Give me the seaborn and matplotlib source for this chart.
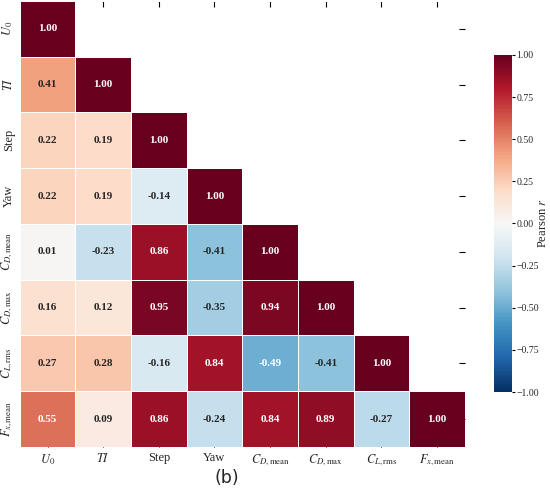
import numpy as np
import pandas as pd
import matplotlib
matplotlib.use("Agg")
import matplotlib.pyplot as plt
import seaborn as sns

# variable names (mathtext labels)
labels = [r"$U_0$", r"$TI$", "Step", "Yaw",
          r"$C_{D,\mathrm{mean}}$", r"$C_{D,\mathrm{max}}$",
          r"$C_{L,\mathrm{rms}}$", r"$F_{x,\mathrm{mean}}$"]

# lower triangle of the correlation matrix, row by row
row_u0 = [1.00]
row_ti = [0.41, 1.00]
row_step = [0.22, 0.19, 1.00]
row_yaw = [0.22, 0.19, -0.14, 1.00]
row_cdmean = [0.01, -0.23, 0.86, -0.41, 1.00]
row_cdmax = [0.16, 0.12, 0.95, -0.35, 0.94, 1.00]
row_clrms = [0.27, 0.28, -0.16, 0.84, -0.49, -0.41, 1.00]
row_fxmean = [0.55, 0.09, 0.86, -0.24, 0.84, 0.89, -0.27, 1.00]
rows = [row_u0, row_ti, row_step, row_yaw, row_cdmean, row_cdmax, row_clrms, row_fxmean]

cbar_ticks = [-1, -0.75, -0.5, -0.25, 0, 0.25, 0.5, 0.75, 1]

n = len(labels)
corr = np.eye(n)
for i, r in enumerate(rows):
    for j, v in enumerate(r):
        corr[i, j] = v
        corr[j, i] = v
df = pd.DataFrame(corr, index=labels, columns=labels)
mask = np.triu(np.ones_like(corr, dtype=bool), k=1)  # hide upper triangle

sns.set_style("white")
plt.rcParams["font.family"] = ["Liberation Serif", "DejaVu Serif"]
plt.rcParams["mathtext.fontset"] = "stix"
plt.rcParams["xtick.direction"] = "in"
plt.rcParams["ytick.direction"] = "in"

fig = plt.figure(figsize=(5.5, 4.9), dpi=100)
ax = fig.add_axes([0.036, 0.088, 0.809, 0.91])
cax = fig.add_axes([0.898, 0.2, 0.033, 0.688])

sns.heatmap(df, mask=mask, cmap="RdBu_r", vmin=-1, vmax=1, center=0,
            annot=True, fmt=".2f", annot_kws={"size": 8, "weight": "bold"},
            linewidths=0.6, linecolor="white",
            ax=ax, cbar_ax=cax, cbar_kws={"label": r"Pearson $r$"})

ax.tick_params(axis="both", which="both", top=True, right=True, bottom=True, left=True,
               length=4, width=0.8, labelsize=9, color="black")
ax.tick_params(axis="y", labelrotation=90)
for lab in ax.get_yticklabels():
    lab.set_va("center")
for s in ax.spines.values():
    s.set_visible(False)

cax.tick_params(labelsize=7, length=2, width=0.8, pad=1, direction="out", color="black")
cax.set_yticks(cbar_ticks)
cax.set_yticklabels([f"{t:.2f}".replace("-", "\u2212") for t in cbar_ticks])
cax.yaxis.label.set_size(9)
cax.yaxis.set_label_coords(2.4, 0.5)

fig.text(0.413, 0.024, "(b)", fontsize=12.5, family="DejaVu Sans", ha="center", va="center")

fig.savefig("out.png", dpi=100)
